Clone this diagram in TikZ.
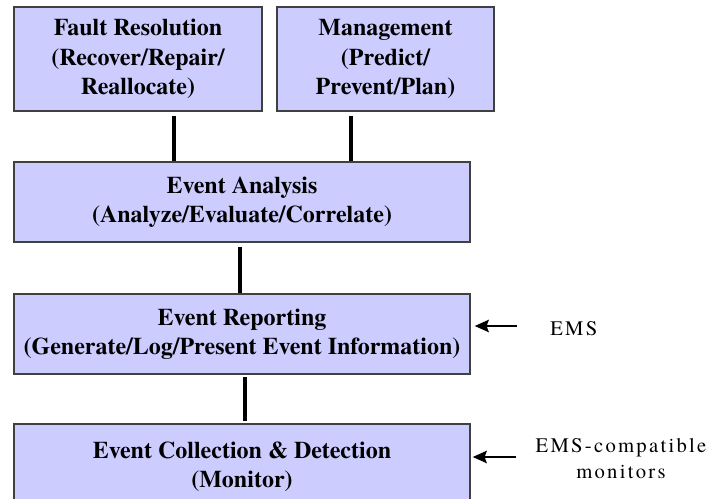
\documentclass[tikz,border=0pt]{standalone}
\usepackage{fontspec}
\setmainfont{TeX Gyre Termes}
\newfontfamily\emsfont[LetterSpace=11]{TeX Gyre Termes}
\usetikzlibrary{arrows.meta}
\definecolor{boxfill}{HTML}{CCCCFF}
\definecolor{boxline}{HTML}{404040}
\tikzset{
  blk/.style={draw=boxline, line width=0.9pt, fill=boxfill, inner sep=0pt, align=center,
    font=\fontsize{18}{22}\selectfont\bfseries},
  conn/.style={line width=2.3pt, black},
  arr/.style={line width=2.2pt, black, -{Stealth[length=10.5pt,width=9pt,inset=1.5pt]}},
  side/.style={inner sep=0pt, align=center, font=\fontsize{15.5}{19.5}\selectfont\emsfont}
}
\begin{document}
\begin{tikzpicture}[x=0.75pt,y=-0.75pt]
\useasboundingbox (0,0) rectangle (708,499);
\node[blk, minimum width=186pt, minimum height=78pt] (fault) at (138,59)
  {Fault Resolution\\(Recover/Repair/\\Reallocate)};
\node[blk, minimum width=162.75pt, minimum height=78pt] (mgmt) at (385.5,59)
  {Management\\(Predict/\\Prevent/Plan)};
\node[blk, minimum width=342pt, minimum height=60pt] (ea) at (242,202)
  {Event Analysis\\(Analyze/Evaluate/Correlate)};
\node[blk, minimum width=342pt, minimum height=60pt] (er) at (242,334)
  {Event Reporting\\(Generate/Log/Present Event Information)};
\node[blk, minimum width=342pt, minimum height=64.5pt] (ec) at (242,467)
  {Event Collection \& Detection\\(Monitor)};
\coordinate (x1) at (174,0);
\coordinate (x2) at (351,0);
\coordinate (x3) at (240,0);
\coordinate (x4) at (245,0);
\draw[conn] ([yshift=-3pt]fault.south -| x1) -- (ea.north -| x1);
\draw[conn] ([yshift=-3pt]mgmt.south -| x2) -- (ea.north -| x2);
\draw[conn] ([yshift=-3pt]ea.south -| x3) -- (er.north -| x3);
\draw[conn] ([yshift=-2pt]er.south -| x4) -- ([yshift=1.5pt]ec.north -| x4);
\coordinate (t1) at (517,326);
\coordinate (t2) at (516,457);
\draw[arr, shorten >=3pt] (t1) -- (t1 -| er.east);
\draw[arr, shorten >=1.5pt] (t2) -- (t2 -| ec.east);
\node[side, anchor=base west] (ems) at (550,336) {EMS};
\node[side, anchor=north] (emsc) at (621,438) {EMS-compatible\\monitors};
\end{tikzpicture}
\end{document}
